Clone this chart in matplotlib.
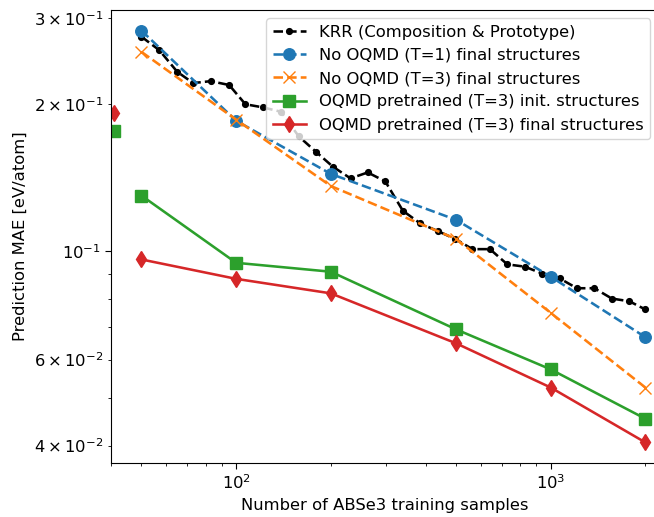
import matplotlib
matplotlib.use("Agg")
import matplotlib.pyplot as plt

# ─── DATA ───────────────────────────────────────────────────────────────────

krr_n = [50, 57, 65, 73, 83, 95, 107, 122, 139, 158, 179, 203, 231, 262, 298,
         339, 385, 437, 497, 564, 641, 728, 827, 940, 1067, 1212, 1377, 1565,
         1778, 2000]
krr_mae = [0.275, 0.258, 0.233, 0.221, 0.223, 0.219, 0.200, 0.197, 0.193,
           0.172, 0.160, 0.149, 0.141, 0.145, 0.139, 0.121, 0.114, 0.110,
           0.106, 0.101, 0.101, 0.094, 0.093, 0.090, 0.088, 0.084, 0.084,
           0.080, 0.079, 0.076]

n_train = [50, 100, 200, 500, 1000, 2000]
mae_t1_final = [0.283, 0.185, 0.144, 0.116, 0.0887, 0.0667]
mae_t3_final = [0.256, 0.186, 0.136, 0.106, 0.0748, 0.0526]
mae_pre_init = [0.130, 0.0947, 0.0908, 0.0692, 0.0573, 0.0454]
mae_pre_final = [0.0962, 0.0878, 0.0820, 0.0648, 0.0526, 0.0406]

# zero-shot points (pretrained model, no ABSe3 fine-tuning), drawn unconnected
n_zero = [41]
mae_zero_init = [0.176]
mae_zero_final = [0.192]

labels = ["KRR (Composition & Prototype)",
          "No OQMD (T=1) final structures",
          "No OQMD (T=3) final structures",
          "OQMD pretrained (T=3) init. structures",
          "OQMD pretrained (T=3) final structures"]

# ─── STYLE ──────────────────────────────────────────────────────────────────

plt.rcParams["font.size"] = 11.8
plt.rcParams["lines.linewidth"] = 1.85
plt.rcParams["xtick.major.size"] = 4
plt.rcParams["ytick.major.size"] = 4
plt.rcParams["xtick.minor.size"] = 2.3
plt.rcParams["ytick.minor.size"] = 2.3

# ─── PLOT ───────────────────────────────────────────────────────────────────

fig = plt.figure(figsize=(6.54, 5.17), dpi=100)
ax = fig.add_axes([0.1697, 0.1044, 0.837, 0.8762])

ms = 8.3
ax.plot(krr_n, krr_mae, "k.--", markersize=ms, label=labels[0])
ax.plot(n_train, mae_t1_final, "o--", color="C0", markersize=ms, label=labels[1])
ax.plot(n_train, mae_t3_final, "x--", color="C1", markersize=ms, label=labels[2])
ax.plot(n_train, mae_pre_init, "s-", color="C2", markersize=ms, label=labels[3])
ax.plot(n_train, mae_pre_final, "d-", color="C3", markersize=ms, label=labels[4])
ax.plot(n_zero, mae_zero_init, "s", color="C2", markersize=ms)
ax.plot(n_zero, mae_zero_final, "d", color="C3", markersize=ms)

ax.set_xscale("log")
ax.set_yscale("log")
ax.set_xlim(40, 2200)
ax.set_xlabel("Number of ABSe3 training samples")
ax.set_ylabel("Prediction MAE [eV/atom]")
ax.legend(loc="upper right")

fig.savefig("out.png", dpi=100)
